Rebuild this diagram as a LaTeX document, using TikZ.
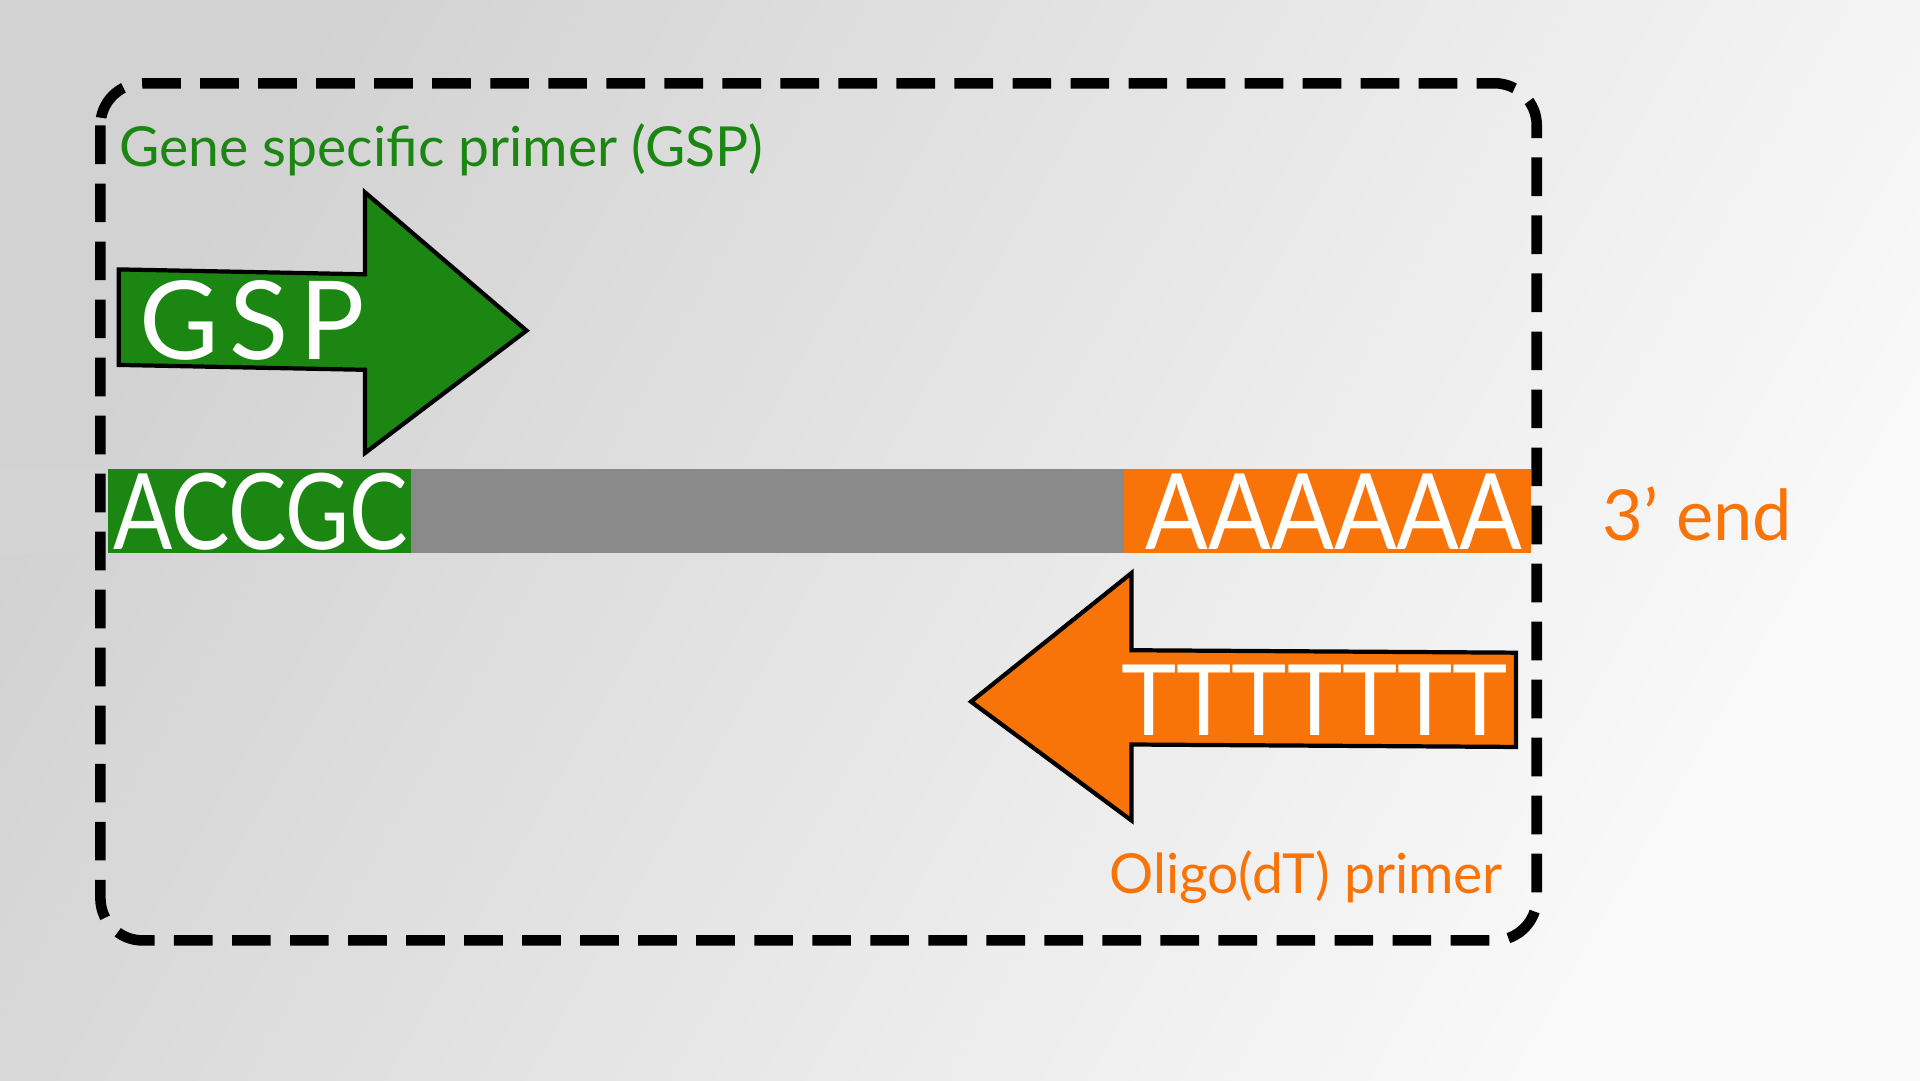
\documentclass[tikz,border=0pt]{standalone}
\usepackage{fontspec}
\usepackage{graphicx}
\setmainfont{Lato}
\definecolor{gspgreen}{RGB}{28,134,18}
\definecolor{dtorange}{RGB}{248,115,8}
\definecolor{strand}{RGB}{138,138,138}
\tikzset{
  seq/.style={text=white,font=\fontsize{30}{30}\selectfont,inner sep=0pt},
  primer/.style={draw=black,line width=1.2pt,line join=miter},
  label/.style={font=\fontsize{15.7}{15.7}\selectfont,inner sep=0pt}
}
\begin{document}
\begin{tikzpicture}[x=0.012245cm,y=-0.012245cm]
            % background
            \shade[left color=gray!35,right color=white!96!gray,shading angle=60] (0,0) rectangle (1568,882);
            \useasboundingbox (0,0) rectangle (1568,882);
            % strand
            \fill[strand!45!gray!35] (0,383) rectangle (88,452);
            \fill[strand] (88,383) rectangle (1250,452);
            \fill[gspgreen] (88,383) rectangle (336,452);
            \fill[dtorange] (918,383) rectangle (1250,452);
            \node[seq,anchor=west] (acc) at (92,418) {\scalebox{0.83}[1]{ACCGC}};
            \node[seq,anchor=east] (aaa) at (1244,418) {\scalebox{0.88}[1]{AAAAAA}};
            % primers
            \draw[primer,fill=gspgreen] (97,220) -- (298,224) -- (298,157) -- (430,270) -- (298,370) -- (298,302) -- (97,298) -- cycle;
            \node[seq,anchor=west,font=\fontsize{31}{31}\selectfont] (gsp) at (113,262) {G\kern3pt S\kern3pt P};
            \draw[primer,fill=dtorange] (1238,533) -- (924,531) -- (924,468) -- (793,573) -- (924,670) -- (924,608) -- (1238,610) -- cycle;
            \node[seq,anchor=east,font=\fontsize{28}{28}\selectfont] (ttt) at (1232,572) {\scalebox{0.95}[1]{TTTTTTT}};
            % frame
            \draw[line width=3pt,dash pattern=on 11pt off 5.5pt,rounded corners=12pt] (82,68) rectangle (1255,768);
            % labels
            \node[label,text=gspgreen,anchor=west] (gsplab) at (97,122) {Gene specific primer (GSP)};
            \node[label,text=dtorange,anchor=east] (dtlab) at (1228,716) {Oligo(dT) primer};
            \node[label,text=dtorange,anchor=west,font=\fontsize{20}{20}\selectfont] (end) at (1308,420) {3’ end};
\end{tikzpicture}
\end{document}
